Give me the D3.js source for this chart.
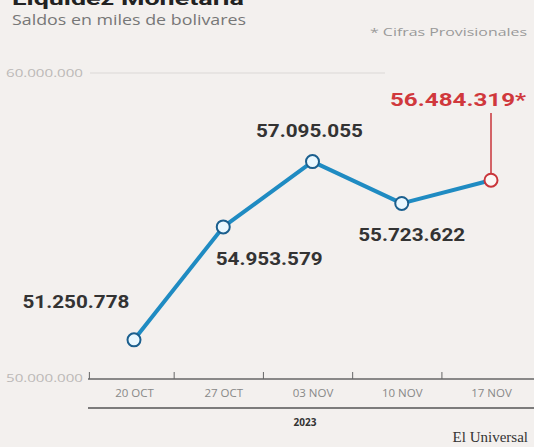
<!DOCTYPE html>
<html><head><meta charset="utf-8">
<script src="https://cdn.jsdelivr.net/npm/d3@7"></script>
<style>
html,body{margin:0;padding:0;background:#f3f0ee;}
svg{display:block;}
</style></head>
<body>
<svg id="c" width="534" height="447"></svg>
<script>
const categories = ["20 OCT","27 OCT","03 NOV","10 NOV","17 NOV"];
const values = [51250778, 54953579, 57095055, 55723622, 56484319];
const valueLabels = ["51.250.778","54.953.579","57.095.055","55.723.622","56.484.319*"];
const yTicks = [50000000, 60000000];
const yTickLabels = ["50.000.000","60.000.000"];
const yearLabel = "2023";

const svg = d3.select("#c");
svg.append("rect").attr("width",534).attr("height",447).attr("fill","#f3f0ee");

// titles
svg.append("text").attr("x",12).attr("y",5).attr("font-family","Roboto, sans-serif")
  .attr("font-weight",700).attr("font-size",18).attr("fill","#222")
  .attr("textLength",232).attr("lengthAdjust","spacingAndGlyphs").text("Liquidez Monetaria");
svg.append("text").attr("x",12).attr("y",25).attr("font-family","Open Sans, sans-serif")
  .attr("font-size",14).attr("fill","#777")
  .attr("textLength",234).attr("lengthAdjust","spacingAndGlyphs").text("Saldos en miles de bolivares");
svg.append("text").attr("x",527).attr("y",36).attr("text-anchor","end").attr("font-family","Open Sans, sans-serif")
  .attr("font-size",11).attr("fill","#999")
  .attr("textLength",157).attr("lengthAdjust","spacingAndGlyphs").text("* Cifras Provisionales");

const x = d3.scalePoint().domain(categories).range([134, 491]);
const y = d3.scaleLinear().domain([50000000, 60000000]).range([378, 73]);

// grid at 60M
svg.append("line").attr("x1",90).attr("x2",385).attr("y1",y(60000000)).attr("y2",y(60000000))
  .attr("stroke","#dcd8d6").attr("stroke-width",1.2);

// y labels
svg.selectAll(".yl").data(yTicks).enter().append("text")
  .attr("x",83).attr("y",d=>y(d)+4).attr("text-anchor","end")
  .attr("font-family","Open Sans, sans-serif").attr("font-size",10.5).attr("fill","#bcb9b7")
  .attr("textLength",77).attr("lengthAdjust","spacingAndGlyphs")
  .text((d,i)=>yTickLabels[i]);

// x axis
const step = x.step();
const xAxis = d3.axisBottom(x).tickSize(0).tickPadding(10);
const ax = svg.append("g").attr("transform",`translate(0,${y(50000000)+1})`).call(xAxis);
ax.select(".domain").remove();
ax.selectAll("text").attr("font-family","Open Sans, sans-serif").attr("font-size",11.5).attr("fill","#888");
svg.append("line").attr("x1",88).attr("x2",534).attr("y1",379).attr("y2",379).attr("stroke","#666").attr("stroke-width",1.5);
const tickXs = [x(categories[0]) - step/2].concat(categories.slice(1).map(c=>x(c)-step*0.55));
svg.selectAll(".tk").data(tickXs).enter().append("line")
  .attr("x1",d=>d).attr("x2",d=>d).attr("y1",372).attr("y2",379).attr("stroke","#666").attr("stroke-width",1);
svg.append("line").attr("x1",88).attr("x2",534).attr("y1",408).attr("y2",408).attr("stroke","#555").attr("stroke-width",1.5);
svg.append("text").attr("x",305).attr("y",426).attr("text-anchor","middle").attr("font-family","Open Sans, sans-serif")
  .attr("font-weight",700).attr("font-size",10).attr("fill","#333").text(yearLabel);
svg.append("text").attr("x",528).attr("y",442).attr("text-anchor","end").attr("font-family","Liberation Serif, serif")
  .attr("font-size",15).attr("fill","#333").text("El Universal");

const pts = categories.map((c,i)=>({c, v:values[i], l:valueLabels[i], i}));
const lastIdx = pts.length-1;

// red leader line
svg.append("line").attr("x1",x(categories[lastIdx])).attr("x2",x(categories[lastIdx]))
  .attr("y1",113).attr("y2",y(values[lastIdx])-7).attr("stroke","#c9353a").attr("stroke-width",1.5);

// line
svg.append("path").datum(pts)
  .attr("d", d3.line().x(d=>x(d.c)).y(d=>y(d.v)))
  .attr("fill","none").attr("stroke","#1f8bc2").attr("stroke-width",4).attr("stroke-linejoin","round");

svg.selectAll(".pt").data(pts).enter().append("circle")
  .attr("cx",d=>x(d.c)).attr("cy",d=>y(d.v)).attr("r",6.5)
  .attr("fill",d=>d.i===lastIdx?"#fbf7f5":"#eaf8ff")
  .attr("stroke",d=>d.i===lastIdx?"#c9353a":"#1b5f8e").attr("stroke-width",2);

// value labels
const offs = [[-58,-32],[46,38],[-3,-25],[10,38],[-33,-74]];
svg.selectAll(".vl").data(pts).enter().append("text")
  .attr("x",(d,i)=>x(d.c)+offs[i][0]).attr("y",(d,i)=>y(d.v)+offs[i][1])
  .attr("text-anchor","middle").attr("font-family","Roboto, sans-serif").attr("font-weight",700)
  .attr("font-size",d=>d.i===lastIdx?18:17.5)
  .attr("textLength",d=>d.i===lastIdx?136:107).attr("lengthAdjust","spacingAndGlyphs")
  .attr("fill",d=>d.i===lastIdx?"#d0383c":"#333")
  .text(d=>d.l);
</script>
</body></html>
